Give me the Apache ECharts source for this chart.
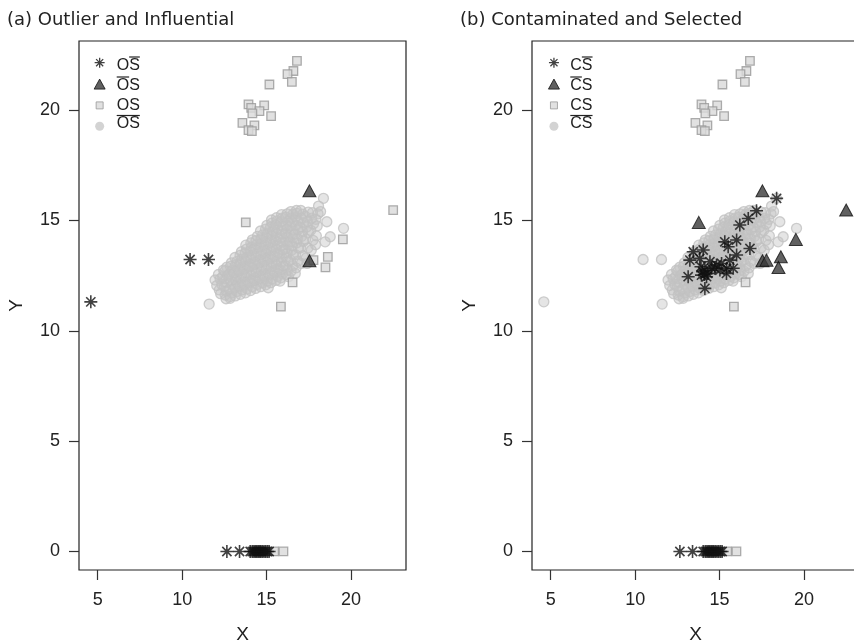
<!DOCTYPE html>
<html>
<head>
<meta charset="UTF-8">
<title>(a) Outlier and Influential / (b) Contaminated and Selected</title>
<script src="https://cdn.jsdelivr.net/npm/echarts@6/dist/echarts.min.js"></script>
<style>
  html, body { margin: 0; padding: 0; background: #fff; overflow: hidden; }
  #main { width: 854px; height: 642px; }
</style>
</head>
<body>
<div id="main"></div>
<script>
const xTicks = [5, 10, 15, 20];
const yTicks = [0, 5, 10, 15, 20];

// grey hollow circles, the big cloud (same in both panels)
const cloud = [
  [11.60,11.21],[11.95,12.30],[12.05,12.05],[12.20,11.85],[12.25,12.35],[12.15,12.55],[12.35,12.10],[12.28,11.68],[12.40,12.45],[12.60,11.45],[12.84,11.47],
  [12.55,11.62],[12.62,11.80],[12.50,12.00],[12.66,12.18],[12.58,12.36],[12.70,12.52],[12.52,12.70],[12.64,12.88],[12.45,12.75],
  [12.85,11.55],[12.95,11.72],[12.82,11.90],[12.98,12.08],[12.88,12.25],[12.93,12.42],[12.80,12.58],[12.97,12.74],[12.86,12.92],[12.92,13.08],
  [13.15,11.58],[13.25,11.78],[13.12,11.95],[13.28,12.12],[13.18,12.30],[13.22,12.47],[13.10,12.63],[13.27,12.80],[13.16,12.97],[13.24,13.14],[13.13,13.32],
  [13.45,11.65],[13.55,11.85],[13.42,12.02],[13.58,12.20],[13.48,12.38],[13.53,12.55],[13.40,12.72],[13.57,12.90],[13.46,13.07],[13.54,13.25],[13.43,13.42],[13.51,13.58],
  [13.75,11.72],[13.85,11.90],[13.72,12.08],[13.88,12.26],[13.78,12.44],[13.83,12.62],[13.70,12.80],[13.87,12.98],[13.76,13.16],[13.84,13.34],[13.73,13.52],[13.81,13.70],[13.77,13.88],
  [14.05,11.82],[14.15,12.00],[14.02,12.18],[14.18,12.36],[14.08,12.54],[14.13,12.72],[14.00,12.90],[14.17,13.08],[14.06,13.26],[14.14,13.44],[14.03,13.62],[14.11,13.80],[14.07,13.98],[14.16,14.12],
  [14.35,11.92],[14.45,12.10],[14.32,12.28],[14.48,12.46],[14.38,12.64],[14.43,12.82],[14.30,13.00],[14.47,13.18],[14.36,13.36],[14.44,13.54],[14.33,13.72],[14.41,13.90],[14.37,14.08],[14.46,14.28],
  [14.65,12.00],[14.75,12.18],[14.62,12.36],[14.78,12.54],[14.68,12.72],[14.73,12.90],[14.60,13.08],[14.77,13.26],[14.66,13.44],[14.74,13.62],[14.63,13.80],[14.71,13.98],[14.67,14.16],[14.76,14.34],[14.64,14.52],
  [14.95,12.08],[15.05,12.26],[14.92,12.44],[15.08,12.62],[14.98,12.80],[15.03,12.98],[14.90,13.16],[15.07,13.34],[14.96,13.52],[15.04,13.70],[14.93,13.88],[15.01,14.06],[14.97,14.24],[15.06,14.42],[14.94,14.60],[15.02,14.78],[15.10,11.95],
  [15.25,12.18],[15.35,12.36],[15.22,12.54],[15.38,12.72],[15.28,12.90],[15.33,13.08],[15.20,13.26],[15.37,13.44],[15.26,13.62],[15.34,13.80],[15.23,13.98],[15.31,14.16],[15.27,14.34],[15.36,14.52],[15.24,14.70],[15.32,14.88],[15.29,15.02],
  [15.55,12.28],[15.65,12.46],[15.52,12.64],[15.68,12.82],[15.58,13.00],[15.63,13.18],[15.50,13.36],[15.67,13.54],[15.56,13.72],[15.64,13.90],[15.53,14.08],[15.61,14.26],[15.57,14.44],[15.66,14.62],[15.54,14.80],[15.62,14.98],[15.59,15.12],
  [15.85,12.40],[15.95,12.58],[15.82,12.76],[15.98,12.94],[15.88,13.12],[15.93,13.30],[15.80,13.48],[15.97,13.66],[15.86,13.84],[15.94,14.02],[15.83,14.20],[15.91,14.38],[15.87,14.56],[15.96,14.74],[15.84,14.92],[15.92,15.10],[15.89,15.26],[15.80,12.25],
  [16.15,12.55],[16.25,12.75],[16.12,12.95],[16.28,13.15],[16.18,13.35],[16.23,13.53],[16.10,13.71],[16.27,13.89],[16.16,14.07],[16.24,14.25],[16.13,14.43],[16.21,14.61],[16.17,14.79],[16.26,14.97],[16.14,15.15],[16.22,15.30],[16.30,12.45],
  [16.45,12.70],[16.55,12.95],[16.42,13.20],[16.58,13.45],[16.48,13.65],[16.53,13.85],[16.40,14.03],[16.57,14.21],[16.46,14.39],[16.54,14.57],[16.43,14.75],[16.51,14.93],[16.47,15.11],[16.56,15.28],[16.44,15.40],[16.70,12.60],
  [16.75,12.85],[16.85,13.15],[16.72,13.45],[16.88,13.75],[16.78,13.98],[16.83,14.18],[16.70,14.38],[16.87,14.58],[16.76,14.78],[16.84,14.98],[16.73,15.16],[16.81,15.32],[16.77,15.45],
  [17.05,13.05],[17.15,13.40],[17.02,13.75],[17.18,14.05],[17.08,14.28],[17.13,14.50],[17.00,14.70],[17.17,14.90],[17.06,15.10],[17.14,15.28],[17.03,15.45],
  [17.35,13.30],[17.45,13.75],[17.32,14.15],[17.48,14.45],[17.38,14.70],[17.43,14.95],[17.30,15.18],[17.47,15.38],[17.40,13.05],
  [17.65,13.65],[17.75,14.10],[17.62,14.55],[17.78,14.85],[17.68,15.10],[17.72,15.35],[17.95,14.30],[18.00,14.75],[17.92,15.05],[18.05,15.30],[17.90,13.90],
  [18.47,14.03],[18.77,14.26],[19.56,14.64],[18.57,14.94],[18.37,16.00],[18.08,15.65],[18.20,15.40]
];

// points left of the cloud: stars in (a), circles in (b)
const farLeft = [[4.59,11.31],[10.47,13.23],[11.56,13.23]];

// values sitting on Y = 0
const axisStars = [[12.65,0],[13.40,0],[14.03,0],[14.15,0],[14.25,0],[14.33,0],[14.42,0],[14.50,0],[14.58,0],[14.66,0],[14.75,0],[14.85,0],[14.95,0],[15.05,0],[15.15,0]];
const axisSquares = [[15.45,0],[16.00,0]];

const topSquares = [
  [16.80,22.23],[16.59,21.77],[16.24,21.63],[16.50,21.28],[15.17,21.16],
  [13.93,20.26],[14.09,20.10],[14.86,20.21],[14.58,19.95],[14.16,19.85],[15.27,19.73],
  [13.57,19.42],[14.28,19.31],[13.93,19.09],[14.13,19.05]
];
const innerSquares = [[16.54,12.19],[15.85,11.09]];
// squares in (a) that are triangles in (b)
const switched = [[13.77,14.91],[17.78,13.20],[18.63,13.35],[18.49,12.87],[19.52,14.14],[22.50,15.47]];
const triangles = [[17.54,16.34],[17.54,13.17]];

const rightStars = [
  [18.38,16.00],[17.19,15.44],[16.70,15.09],[16.20,14.79],[16.01,14.11],[15.31,14.03],[15.51,13.81],[16.80,13.73],
  [16.01,13.43],[15.61,13.20],[15.12,13.05],[14.43,13.13],[14.03,13.66],[13.44,13.58],[13.24,13.20],[13.83,13.28],
  [14.53,12.83],[14.13,12.75],[13.93,12.52],[14.23,12.45],[14.72,12.83],[15.42,12.83],[15.81,12.83],[13.14,12.45],
  [14.13,11.92],[14.82,12.98],[14.00,12.68],[14.30,12.60],[13.90,12.90],[15.41,12.60],[15.02,12.75],[14.10,12.55]
];

const leftNames = ['OS\u0305', 'O\u0305S', 'OS', 'O\u0305S\u0305'];
const rightNames = ['CS\u0305', 'C\u0305S', 'CS', 'C\u0305S\u0305'];
const leftLabels = ['OS', 'OS', 'OS', 'OS'];
const rightLabels = ['CS', 'CS', 'CS', 'CS'];
const labelBars = [[1], [0], [], [0, 1]];

const starPath = 'path://M5,0L5,10M0,5L10,5M1.46,1.46L8.54,8.54M8.54,1.46L1.46,8.54';
const marks = {
  star: { symbol: starPath, symbolSize: 13, itemStyle: { color: 'rgba(0,0,0,0)', borderColor: '#111', borderWidth: 1.6 } },
  tri:  { symbol: 'triangle', symbolSize: [13, 12], itemStyle: { color: '#3a3a3a', borderColor: '#111', borderWidth: 1 } },
  sq:   { symbol: 'rect', symbolSize: 8.5, itemStyle: { color: '#dadada', borderColor: '#999', borderWidth: 1.3 } },
  circ: { symbol: 'circle', symbolSize: 10, itemStyle: { color: 'rgba(196,196,196,0.55)', borderColor: '#c2c2c2', borderWidth: 1.3 } }
};

function scatter(name, panel, data, kind) {
  return Object.assign({
    type: 'scatter', name: name, xAxisIndex: panel, yAxisIndex: panel,
    data: data, silent: true, animation: false, emphasis: { disabled: true }
  }, JSON.parse(JSON.stringify(marks[kind])));
}

const legStar = 'path://M0,0M12,12M6,1L6,11M1,6L11,6M2.46,2.46L9.54,9.54M9.54,2.46L2.46,9.54';
const legTri = 'path://M0,0M12,12M6,1L11.5,11L0.5,11Z';
const legSq = 'path://M0,0M12,12M2.5,2.5L9.5,2.5L9.5,9.5L2.5,9.5Z';
const legCirc = 'path://M0,0M12,12M1.5,6A4.5,4.5,0,1,1,10.5,6A4.5,4.5,0,1,1,1.5,6Z';

function legendData(names) {
  return [
    { name: names[0], icon: legStar, itemStyle: { color: 'rgba(0,0,0,0)', borderColor: '#111', borderWidth: 1.3 } },
    { name: names[1], icon: legTri, itemStyle: { color: '#3a3a3a', borderColor: '#111', borderWidth: 1 } },
    { name: names[2], icon: legSq, itemStyle: { color: '#dadada', borderColor: '#999', borderWidth: 1 } },
    { name: names[3], icon: legCirc, itemStyle: { color: '#c8c8c8', borderWidth: 0 } }
  ];
}

function legend(left, names) {
  return {
    left: left, top: 56, orient: 'vertical', padding: 0,
    itemWidth: 12, itemHeight: 12, itemGap: 8.3, selectedMode: false,
    formatter: () => '', textStyle: { fontSize: 12 },
    data: legendData(names)
  };
}

// legend labels with overbars
const legendFont = '16px "Liberation Sans"';
const ctx = document.createElement('canvas').getContext('2d');
ctx.font = legendFont;
const rowY = [65.5, 85.5, 105.5, 124];

function legendText(x0, labels) {
  const out = [];
  labels.forEach((lab, i) => {
    const y = rowY[i];
    out.push({
      type: 'text', x: x0, y: y, z: 100, silent: true,
      style: { text: lab, font: legendFont, fill: '#222', textVerticalAlign: 'middle', verticalAlign: 'middle' }
    });
    const bars = labelBars[i];
    if (bars.length) {
      const a = Math.min.apply(null, bars), b = Math.max.apply(null, bars);
      const x1 = x0 + ctx.measureText(lab.slice(0, a)).width;
      const x2 = x0 + ctx.measureText(lab.slice(0, b + 1)).width;
      out.push({
        type: 'line', z: 100, silent: true,
        shape: { x1: x1, y1: y - 8.5, x2: x2, y2: y - 8.5 },
        style: { stroke: '#222', lineWidth: 1.2 }
      });
    }
  });
  return out;
}

function xAxis(grid) {
  return {
    type: 'value', gridIndex: grid, min: 3.89, max: 23.26,
    name: 'X', nameLocation: 'middle', nameGap: 55,
    nameTextStyle: { fontFamily: 'Liberation Sans', fontSize: 19, color: '#222' },
    axisLine: { show: false, onZero: false },
    axisTick: { show: true, length: 10, customValues: xTicks, lineStyle: { color: '#333', width: 1.2 } },
    axisLabel: { customValues: xTicks, margin: 21, fontFamily: 'Liberation Sans', fontSize: 18, color: '#222' },
    splitLine: { show: false }
  };
}

function yAxis(grid) {
  return {
    type: 'value', gridIndex: grid, min: -0.84, max: 23.13,
    name: 'Y', nameLocation: 'middle', nameGap: 53, nameRotate: 90,
    nameTextStyle: { fontFamily: 'Liberation Sans', fontSize: 19, color: '#222' },
    axisLine: { show: false, onZero: false },
    axisTick: { show: true, length: 10, customValues: yTicks, lineStyle: { color: '#333', width: 1.2 } },
    axisLabel: { customValues: yTicks, margin: 19, fontFamily: 'Liberation Sans', fontSize: 18, color: '#222' },
    splitLine: { show: false }
  };
}

const titleStyle = { fontFamily: 'DejaVu Sans', fontSize: 18, fontWeight: 'normal', color: '#222' };

const gridBase = { top: 41, width: 327, height: 529, show: true, borderColor: '#222', borderWidth: 1.2,
  backgroundColor: 'transparent', containLabel: false, outerBoundsMode: 'none' };

const chart = echarts.init(document.getElementById('main'), null, { renderer: 'canvas' });

chart.setOption({
  animation: false,
  backgroundColor: '#fff',
  title: [
    { text: '(a) Outlier and Influential', left: 7, top: 11, padding: 0, textStyle: titleStyle },
    { text: '(b) Contaminated and Selected', left: 460, top: 11, padding: 0, textStyle: titleStyle }
  ],
  grid: [
    Object.assign({ left: 79 }, gridBase),
    Object.assign({ left: 532 }, gridBase)
  ],
  xAxis: [xAxis(0), xAxis(1)],
  yAxis: [yAxis(0), yAxis(1)],
  legend: [legend(93, leftNames), legend(547.3, rightNames)],
  graphic: legendText(116.7, leftLabels).concat(legendText(570.3, rightLabels)),
  series: [
    scatter(leftNames[3], 0, cloud, 'circ'),
    scatter(leftNames[2], 0, topSquares.concat(innerSquares, switched, axisSquares), 'sq'),
    scatter(leftNames[1], 0, triangles, 'tri'),
    scatter(leftNames[0], 0, farLeft.concat(axisStars), 'star'),

    scatter(rightNames[3], 1, cloud.concat(farLeft), 'circ'),
    scatter(rightNames[2], 1, topSquares.concat(innerSquares, axisSquares), 'sq'),
    scatter(rightNames[1], 1, triangles.concat(switched), 'tri'),
    scatter(rightNames[0], 1, rightStars.concat(axisStars), 'star')
  ]
});
</script>
</body>
</html>
